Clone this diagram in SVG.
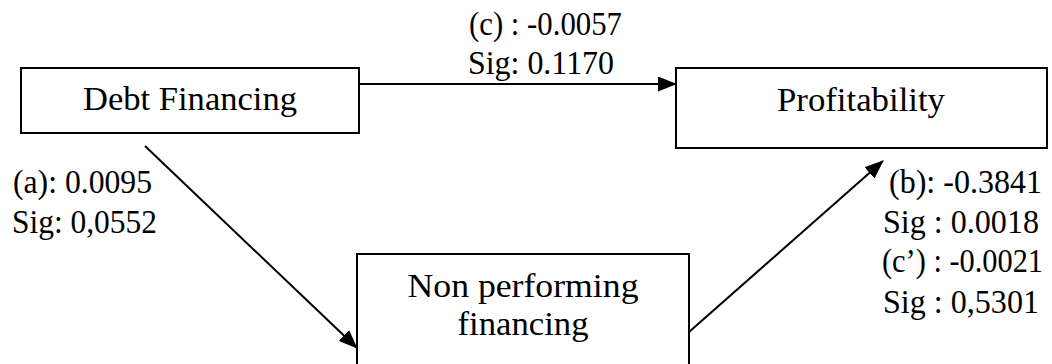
<svg xmlns="http://www.w3.org/2000/svg" width="1052" height="364" viewBox="0 0 1052 364">
  <style>
    .box { fill: #ffffff; stroke: #000000; stroke-width: 2; }
    .lbl { font-family: "Liberation Serif", "Times New Roman", serif; font-size: 33px; fill: #000000; }
    .mid { text-anchor: middle; }
    .edge { fill: none; stroke: #000000; stroke-width: 2; marker-end: url(#arrow); }
  </style>
  <defs>
    <marker id="arrow" markerUnits="userSpaceOnUse" markerWidth="19" markerHeight="15" refX="18" refY="7.5" orient="auto">
      <path d="M0,0 L19,7.5 L0,15 Z" fill="#000000"/>
    </marker>
  </defs>
  <rect width="1052" height="364" fill="#ffffff"/>

  <g id="connectors">
    <line class="edge" x1="359" y1="84" x2="676" y2="84"/>
    <line class="edge" x1="145" y1="146" x2="357" y2="348"/>
    <line class="edge" x1="689" y1="332" x2="883" y2="161"/>
  </g>

  <g id="debt-financing">
    <rect class="box" x="21" y="68" width="338" height="65"/>
    <text class="lbl mid" x="190" y="110" textLength="214" lengthAdjust="spacingAndGlyphs">Debt Financing</text>
  </g>

  <g id="profitability">
    <rect class="box" x="676" y="68" width="371" height="80"/>
    <text class="lbl mid" x="861" y="111" textLength="168" lengthAdjust="spacingAndGlyphs">Profitability</text>
  </g>

  <g id="non-performing-financing">
    <rect class="box" x="357" y="254" width="332" height="120"/>
    <text class="lbl mid" x="523" y="297" textLength="231" lengthAdjust="spacingAndGlyphs">Non performing</text>
    <text class="lbl mid" x="523" y="335" textLength="131" lengthAdjust="spacingAndGlyphs">financing</text>
  </g>

  <g id="label-c">
    <text class="lbl" x="469" y="35" textLength="153" lengthAdjust="spacingAndGlyphs">(c) : -0.0057</text>
    <text class="lbl" x="468" y="74" textLength="146" lengthAdjust="spacingAndGlyphs">Sig: 0.1170</text>
  </g>

  <g id="label-a">
    <text class="lbl" x="13" y="193" textLength="139" lengthAdjust="spacingAndGlyphs">(a): 0.0095</text>
    <text class="lbl" x="12" y="233" textLength="145" lengthAdjust="spacingAndGlyphs">Sig: 0,0552</text>
  </g>

  <g id="label-b">
    <text class="lbl" x="889" y="193" textLength="153" lengthAdjust="spacingAndGlyphs">(b): -0.3841</text>
    <text class="lbl" x="883" y="233" textLength="156" lengthAdjust="spacingAndGlyphs">Sig : 0.0018</text>
    <text class="lbl" x="882" y="272" font-size="32" textLength="161" lengthAdjust="spacingAndGlyphs">(c’) : -0.0021</text>
    <text class="lbl" x="883" y="313" textLength="156" lengthAdjust="spacingAndGlyphs">Sig : 0,5301</text>
  </g>
</svg>
